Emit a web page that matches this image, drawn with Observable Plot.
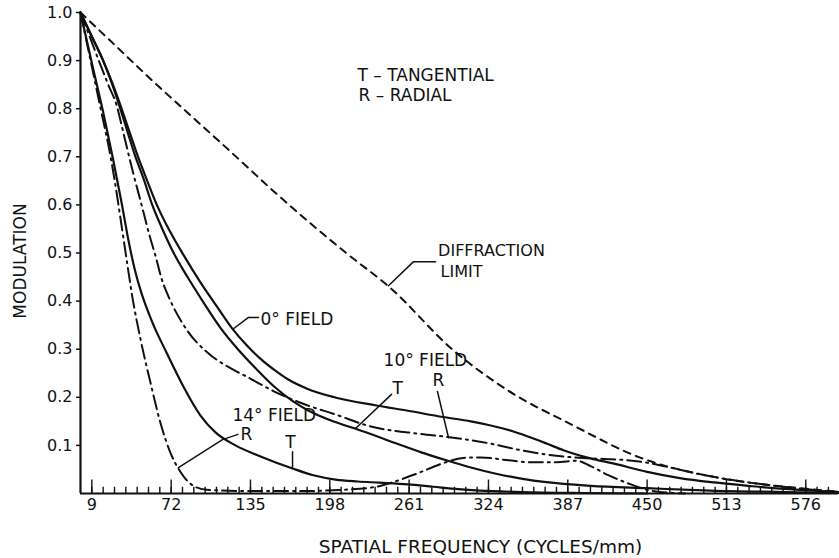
<!DOCTYPE html>
<html><head><meta charset="utf-8">
<script src="https://cdn.jsdelivr.net/npm/d3@7"></script>
<script src="https://cdn.jsdelivr.net/npm/@observablehq/plot@0.6"></script>
<style>html,body{margin:0;padding:0;background:#fff;} svg{display:block}</style>
</head><body><div id="chart"></div>
<script>
// ---- tick values ----
const xTickLabels = [9, 72, 135, 198, 261, 324, 387, 450, 513, 576];
const xMinorTicks = d3.range(9, 600, 9);
const yTickLabels = [0.1, 0.2, 0.3, 0.4, 0.5, 0.6, 0.7, 0.8, 0.9, 1.0];

// ---- series (spatial frequency, cycles/mm -> modulation) ----
const diffX = [0, 27, 58, 90, 122, 154, 211, 245, 296, 339, 391, 444, 506, 560, 602];
const diffY = [1.0, 0.933, 0.856, 0.78, 0.704, 0.627, 0.5, 0.43, 0.298, 0.215, 0.142, 0.075, 0.033, 0.014, 0.004];

const f0X = [0, 9, 18, 25, 32, 38.5, 45, 53, 61, 71, 82, 95, 108, 120, 132, 143, 155, 165, 180, 201.7, 235, 260, 288, 310, 325, 345, 357, 370, 383.5, 405, 423, 450, 476, 503, 530, 556, 582, 602];
const f0Y = [1.0, 0.95, 0.9, 0.855, 0.805, 0.755, 0.705, 0.65, 0.598, 0.545, 0.495, 0.44, 0.39, 0.345, 0.308, 0.28, 0.255, 0.237, 0.218, 0.2, 0.183, 0.172, 0.159, 0.15, 0.142, 0.128, 0.117, 0.104, 0.09, 0.073, 0.0625, 0.045, 0.032, 0.023, 0.016, 0.010, 0.006, 0.003];

const f10TX = [0, 9, 18, 25, 31, 37, 43, 50, 57, 65, 74, 85, 97, 111, 125, 140, 154, 168, 180.5, 201.7, 218, 251, 270, 290.5, 310, 330, 350, 370, 405, 450, 500, 560, 602];
const f10TY = [1.0, 0.95, 0.9, 0.852, 0.805, 0.755, 0.705, 0.655, 0.6, 0.55, 0.5, 0.45, 0.4, 0.345, 0.3, 0.258, 0.222, 0.193, 0.173, 0.149, 0.135, 0.104, 0.086, 0.069, 0.054, 0.041, 0.031, 0.0235, 0.016, 0.011, 0.006, 0.003, 0.001];

const f10RX = [0, 8, 16, 22, 28.6, 34.5, 41, 48, 55, 60, 64, 69, 74.3, 85, 100.8, 119.5, 132.7, 154, 180.5, 201.7, 229.6, 269.5, 293, 325, 346, 365, 383.5, 405, 430, 450, 470, 490, 513, 545, 576, 602];
const f10RY = [1.0, 0.945, 0.89, 0.85, 0.808, 0.745, 0.675, 0.605, 0.535, 0.49, 0.45, 0.415, 0.385, 0.338, 0.293, 0.26, 0.242, 0.212, 0.183, 0.165, 0.14, 0.124, 0.117, 0.104, 0.092, 0.083, 0.077, 0.073, 0.07, 0.064, 0.053, 0.041, 0.03, 0.018, 0.009, 0.003];

const f14TX = [0, 9.1, 17.9, 25.8, 32.6, 38.1, 42.9, 48.5, 56.4, 68.3, 81.8, 95.3, 107.2, 123.1, 143, 168.4, 185, 202.5, 220, 237.6, 260, 280, 300, 317, 350, 400, 450];
const f14TY = [1.0, 0.894, 0.794, 0.696, 0.605, 0.526, 0.468, 0.416, 0.36, 0.293, 0.222, 0.162, 0.127, 0.1, 0.077, 0.052, 0.038, 0.029, 0.025, 0.0225, 0.019, 0.014, 0.009, 0.006, 0.003, 0.001, 0];

const f14RX = [0, 8, 16, 24.4, 29, 33, 37, 41.1, 47.8, 55.7, 63.7, 71.7, 77, 82.3, 90.2, 100, 130, 170, 210, 235, 248, 266.8, 288, 304, 318, 340, 357, 378, 394, 405, 420, 434, 453, 480];
const f14RY = [1.0, 0.9, 0.8, 0.693, 0.62, 0.55, 0.48, 0.41, 0.319, 0.229, 0.145, 0.083, 0.055, 0.034, 0.015, 0.008, 0.005, 0.005, 0.008, 0.014, 0.0235, 0.041, 0.063, 0.074, 0.075, 0.069, 0.065, 0.065, 0.068, 0.057, 0.037, 0.022, 0.006, 0];

// ---- annotations ----
const noteText = ["T – TANGENTIAL", "R – RADIAL", "0° FIELD", "10° FIELD", "T", "R", "14° FIELD", "R"];
const noteX    = [220, 220.8, 143, 240.7, 247.8, 279.6, 120.7, 127];
const noteY    = [0.869, 0.827, 0.362, 0.277, 0.218, 0.235, 0.162, 0.123];
const limitText = ["DIFFRACTION", "LIMIT"];
const limitX = [284, 286];
const limitY = [0.505, 0.461];
const centeredText = ["T"];
const centeredX = [166.8];
const centeredY = [0.106];

const leaders = [
  [[244.6, 0.432], [264.5, 0.482], [282, 0.482]],
  [[120.7, 0.341], [133.4, 0.366], [141.4, 0.366]],
  [[218.4, 0.135], [247, 0.206]],
  [[283.5, 0.212], [292.3, 0.116]],
  [[77.8, 0.054], [112.8, 0.112], [125, 0.123]],
  [[168.4, 0.087], [168.4, 0.052]]
];

const rows = (xs, ys) => xs.map((x, i) => ({x, y: ys[i]}));
const font = "'DejaVu Sans', sans-serif";
const ink = "#111";
const curve = "monotone-x";

const notes = noteText.map((t, i) => ({t, x: noteX[i], y: noteY[i]}));
const limitNotes = limitText.map((t, i) => ({t, x: limitX[i], y: limitY[i]}));
const centered = centeredText.map((t, i) => ({t, x: centeredX[i], y: centeredY[i]}));

const chart = Plot.plot({
  width: 839, height: 558,
  marginLeft: 80, marginRight: 1, marginTop: 12, marginBottom: 65,
  style: {fontFamily: font, background: "#fff", color: ink, overflow: "visible"},
  x: {domain: [0, 602]},
  y: {domain: [0, 1]},
  marks: [
    Plot.axisY({ticks: yTickLabels, tickSize: 4, tickPadding: 4, tickFormat: d => d.toFixed(1), fontSize: 16, label: null, strokeWidth: 1.5}),
    Plot.axisX({ticks: xTickLabels, tickSize: 0, tickPadding: 5, fontSize: 16, label: null}),
    Plot.ruleX(xMinorTicks, {y1: 0, y2: 0.013, stroke: ink, strokeWidth: 1.4}),
    Plot.ruleX(xTickLabels, {y1: 0, y2: 0.028, stroke: ink, strokeWidth: 1.4}),
    Plot.ruleY([0], {stroke: ink, strokeWidth: 2.2}),
    Plot.ruleX([0], {y1: 0, y2: 1, stroke: ink, strokeWidth: 2.2}),
    Plot.line(rows(diffX, diffY), {x: "x", y: "y", stroke: ink, strokeWidth: 2, strokeDasharray: "7,6", curve}),
    Plot.line(rows(f0X, f0Y), {x: "x", y: "y", stroke: ink, strokeWidth: 2.2, curve}),
    Plot.line(rows(f10TX, f10TY), {x: "x", y: "y", stroke: ink, strokeWidth: 2.2, curve}),
    Plot.line(rows(f10RX, f10RY), {x: "x", y: "y", stroke: ink, strokeWidth: 2, strokeDasharray: "14,5,2,5", curve}),
    Plot.line(rows(f14TX, f14TY), {x: "x", y: "y", stroke: ink, strokeWidth: 2.2, curve}),
    Plot.line(rows(f14RX, f14RY), {x: "x", y: "y", stroke: ink, strokeWidth: 2, strokeDasharray: "14,5,2,5", curve}),
    ...leaders.map(l => Plot.line(l, {x: d => d[0], y: d => d[1], stroke: ink, strokeWidth: 1.5})),
    Plot.text(notes, {x: "x", y: "y", text: "t", textAnchor: "start", lineAnchor: "middle", fontSize: 17, fill: ink}),
    Plot.text(limitNotes, {x: "x", y: "y", text: "t", textAnchor: "start", lineAnchor: "middle", fontSize: 16, fill: ink}),
    Plot.text(centered, {x: "x", y: "y", text: "t", textAnchor: "middle", lineAnchor: "middle", fontSize: 17, fill: ink}),
    Plot.text(["MODULATION"], {frameAnchor: "left", textAnchor: "middle", rotate: -90, dx: -60, dy: 8, fontSize: 17, fill: ink}),
    Plot.text(["SPATIAL FREQUENCY (CYCLES/mm)"], {frameAnchor: "bottom", textAnchor: "middle", dx: 21, dy: 59, fontSize: 18.5, fill: ink})
  ]
});
document.getElementById("chart").appendChild(chart);
</script>
</body></html>
